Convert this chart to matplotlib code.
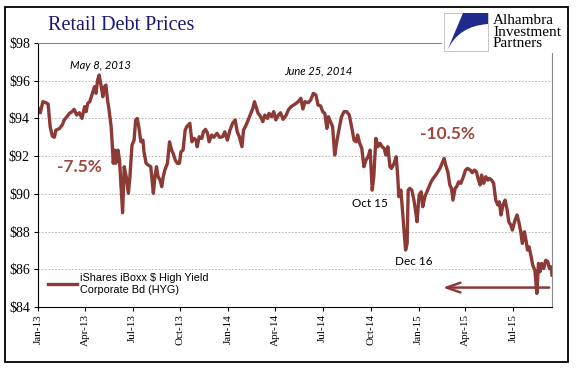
import numpy as np
import pandas as pd
import matplotlib
matplotlib.use("Agg")
import matplotlib.pyplot as plt
import matplotlib.dates as mdates
from matplotlib.patches import Rectangle, PathPatch
from matplotlib.path import Path

# HYG price (days counted from 2013-01-01)
days = [0, 4, 9, 15, 19, 23, 27, 31, 34, 41, 46, 50, 55, 60, 65, 69, 74, 79, 84, 89,
        92, 95, 99, 103, 108, 111, 114, 117, 121, 124, 127, 130, 133, 136, 140, 142,
        144, 147, 149, 153, 156, 159, 162, 165, 169, 173, 176, 180, 184, 187, 190,
        193, 197, 201, 203, 207, 211, 216, 221, 224, 227, 230, 234, 237, 240, 243,
        248, 252, 256, 259, 263, 267, 271, 274, 278, 282, 285, 288, 291, 295, 299,
        303, 305, 309, 314, 317, 321, 325, 328, 333, 337, 343, 348, 354, 358, 363,
        368, 373, 378, 382, 386, 391, 394, 399, 403, 408, 412, 415, 418, 422, 427,
        431, 435, 440, 443, 448, 452, 456, 461, 465, 470, 476, 480, 485, 490, 495,
        499, 504, 508, 512, 518, 523, 528, 533, 537, 542, 546, 550, 554, 557, 561,
        565, 569, 573, 577, 582, 587, 592, 597, 602, 606, 610, 613, 617, 621, 625,
        629, 633, 637, 641, 644, 648, 652, 656, 660, 664, 667, 671, 675, 678, 683,
        687, 690, 692, 696, 699, 703, 705, 708, 710, 713, 717, 721, 724, 727, 731,
        735, 738, 742, 746, 750, 754, 758, 763, 767, 771, 775, 779, 782, 786, 790,
        793, 796, 800, 803, 807, 811, 816, 820, 824, 829, 833, 837, 841, 844, 848,
        851, 855, 859, 863, 866, 870, 874, 878, 882, 885, 888, 892, 896, 900, 903,
        907, 910, 915, 919, 923, 926, 929, 933, 936, 939, 942, 946, 949, 953, 957,
        960, 963, 966, 970, 974, 978, 981, 984, 986]
prices = [94.54, 94.30, 94.89, 94.83, 94.76, 93.56, 93.07, 93.00, 93.38, 93.47, 93.65,
          93.92, 94.09, 94.27, 94.36, 94.48, 94.18, 94.30, 94.00, 94.62, 94.36, 94.80,
          94.89, 95.24, 95.68, 95.33, 96.04, 96.30, 95.68, 95.15, 95.68, 95.77, 94.98,
          94.45, 93.56, 92.68, 91.62, 92.32, 91.62, 92.32, 91.79, 90.38, 89.00, 91.44,
          90.90, 90.03, 90.91, 92.59, 92.85, 93.92, 94.00, 93.56, 92.76, 92.85, 92.23,
          91.62, 91.53, 91.44, 90.03, 90.91, 91.44, 90.91, 90.73, 90.38, 90.91, 91.26,
          91.62, 92.76, 92.32, 92.15, 91.79, 91.62, 91.62, 92.23, 92.32, 93.38, 93.56,
          93.65, 93.74, 92.76, 92.94, 92.85, 92.50, 93.03, 92.94, 93.29, 93.42, 93.21,
          92.76, 93.12, 93.00, 93.21, 93.00, 93.03, 93.29, 92.85, 93.38, 93.74, 93.92,
          93.29, 93.03, 92.50, 93.38, 93.65, 93.92, 94.27, 94.54, 94.89, 94.62, 94.27,
          94.09, 93.83, 94.18, 94.00, 94.27, 94.09, 94.36, 93.92, 94.18, 94.30, 93.95,
          94.18, 94.45, 94.62, 94.71, 94.80, 94.89, 95.07, 94.50, 94.89, 94.83, 94.98,
          95.33, 95.24, 94.71, 94.66, 94.36, 94.27, 93.47, 94.09, 93.83, 93.56, 92.06,
          92.76, 93.38, 94.09, 94.36, 94.36, 94.18, 93.47, 92.85, 92.76, 93.12, 92.68,
          92.41, 91.44, 91.79, 91.97, 92.32, 90.20, 90.91, 92.94, 92.50, 92.68, 92.50,
          92.41, 92.06, 92.50, 91.44, 91.35, 91.62, 91.97, 90.91, 89.85, 90.20, 89.14,
          87.72, 87.02, 87.37, 90.20, 90.29, 90.20, 89.67, 89.14, 88.52, 89.94, 90.11,
          89.32, 89.85, 90.11, 90.38, 90.64, 90.82, 91.00, 91.17, 91.35, 91.62, 91.88,
          91.53, 91.17, 90.47, 90.29, 89.67, 90.29, 90.38, 90.64, 90.56, 90.91, 91.26,
          91.35, 91.26, 91.12, 91.26, 91.17, 90.82, 90.47, 91.00, 90.56, 90.91, 90.73,
          90.82, 90.73, 90.56, 89.67, 89.41, 89.58, 88.88, 89.41, 89.67, 89.14, 88.52,
          88.34, 88.08, 88.61, 88.88, 88.43, 87.99, 87.37, 87.99, 87.55, 87.02, 87.19,
          86.66, 86.22, 85.96, 84.72, 86.31, 85.87, 86.31, 86.04, 86.48, 86.40, 86.04,
          86.13, 85.69]

start = pd.Timestamp("2013-01-01")
dates = start + pd.to_timedelta(days, unit="D")
x_end = start + pd.Timedelta(days=986)

arrow_from = start + pd.Timedelta(days=986)
arrow_to = start + pd.Timedelta(days=771)
arrow_level = 85.03

notes = [("May 8, 2013", 120, 96.83, "italic", "black", "normal", 8),
         ("June 25, 2014", 537, 96.51, "italic", "black", "normal", 8),
         ("-7.5%", 80, 91.40, "normal", "#9a4840", "bold", 12.5),
         ("-10.5%", 786, 93.17, "normal", "#9a4840", "bold", 12.5),
         ("Oct 15", 637, 89.51, "normal", "black", "normal", 8.5),
         ("Dec 16", 720, 86.43, "normal", "black", "normal", 8.5)]

line_color = "#8c3a36"
W, H = 577, 378


def px(x, y):
    return (x / W, 1 - y / H)


fig = plt.figure(figsize=(W / 100, H / 100), dpi=100)
fig.patch.set_facecolor("white")
ax = fig.add_axes([38.2 / W, 1 - 307 / H, (552 - 38.2) / W, (307 - 43) / H])

ax.plot(dates, prices, color=line_color, lw=2.4, solid_joinstyle="round",
        label="iShares iBoxx $ High Yield\nCorporate Bd (HYG)")

ax.set_xlim(start, x_end)
ax.set_ylim(84, 98)
ax.set_yticks(np.arange(84, 99, 2))
ax.set_yticklabels(["$%d" % v for v in np.arange(84, 99, 2)],
                   family="Liberation Serif", fontsize=10)
ax.xaxis.set_major_locator(mdates.MonthLocator(bymonth=[1, 4, 7, 10]))
ax.xaxis.set_major_formatter(mdates.DateFormatter("%b-%y"))
for lab in ax.get_xticklabels():
    lab.set_rotation(90)
    lab.set_family("Liberation Serif")
    lab.set_fontsize(8)
ax.tick_params(axis="both", direction="out", length=3, width=0.8, pad=2)
ax.tick_params(axis="y", pad=3)

ax.grid(axis="y", color="#aaaaaa", lw=0.6, ls=(0, (2, 2)))
ax.set_axisbelow(True)
for s in ["top", "right"]:
    ax.spines[s].set_color("#888888")
    ax.spines[s].set_linewidth(0.8)
for s in ["left", "bottom"]:
    ax.spines[s].set_color("black")
    ax.spines[s].set_linewidth(0.8)

for txt, d, v, style, col, weight, size in notes:
    ax.text(start + pd.Timedelta(days=d), v, txt, ha="center", va="center",
            style=style, color=col, fontweight=weight, fontsize=size, family="Lato")

ax.annotate("", xy=(arrow_to, arrow_level), xytext=(arrow_from, arrow_level),
            arrowprops=dict(arrowstyle="->,head_length=1.0,head_width=0.35",
                            color=line_color, lw=1.8))

leg = ax.legend(loc="lower left", bbox_to_anchor=(0.0, 0.01), frameon=False,
                handlelength=2.7, handletextpad=0.3,
                prop={"family": "Liberation Sans", "size": 7.8})

# title
fig.text(*px(48, 25), "Retail Debt Prices", family="Liberation Serif",
         fontsize=14.5, color="#1a1a70", ha="left", va="center")

# cover plot corner under the logo
fig.add_artist(Rectangle(px(442, 53), 124 / W, 45 / H, transform=fig.transFigure,
                         facecolor="white", edgecolor="none", zorder=10))
# logo box
fig.add_artist(Rectangle(px(444, 51), 44 / W, 38 / H, transform=fig.transFigure,
                         facecolor="white", edgecolor="#bbbbbb", lw=0.6, zorder=11))
verts = [px(463, 13), px(488, 13), px(488, 24), px(458, 26), px(447, 51),
         px(463, 13)]
codes = [Path.MOVETO, Path.LINETO, Path.LINETO, Path.CURVE3, Path.CURVE3,
         Path.LINETO]
fig.add_artist(PathPatch(Path(verts, codes), transform=fig.transFigure,
                         facecolor="#1c2b8c", edgecolor="none", zorder=12))
fig.text(*px(493, 32), "Alhambra\nInvestment\nPartners", family="Liberation Serif",
         fontsize=11, color="black", ha="left", va="center", linespacing=0.82,
         zorder=12)

# outer frame
fig.add_artist(Rectangle(px(5, 362), 563 / W, 355 / H, transform=fig.transFigure,
                         fill=False, edgecolor="black", lw=1.3, zorder=13))

fig.savefig("out.png", dpi=100)
